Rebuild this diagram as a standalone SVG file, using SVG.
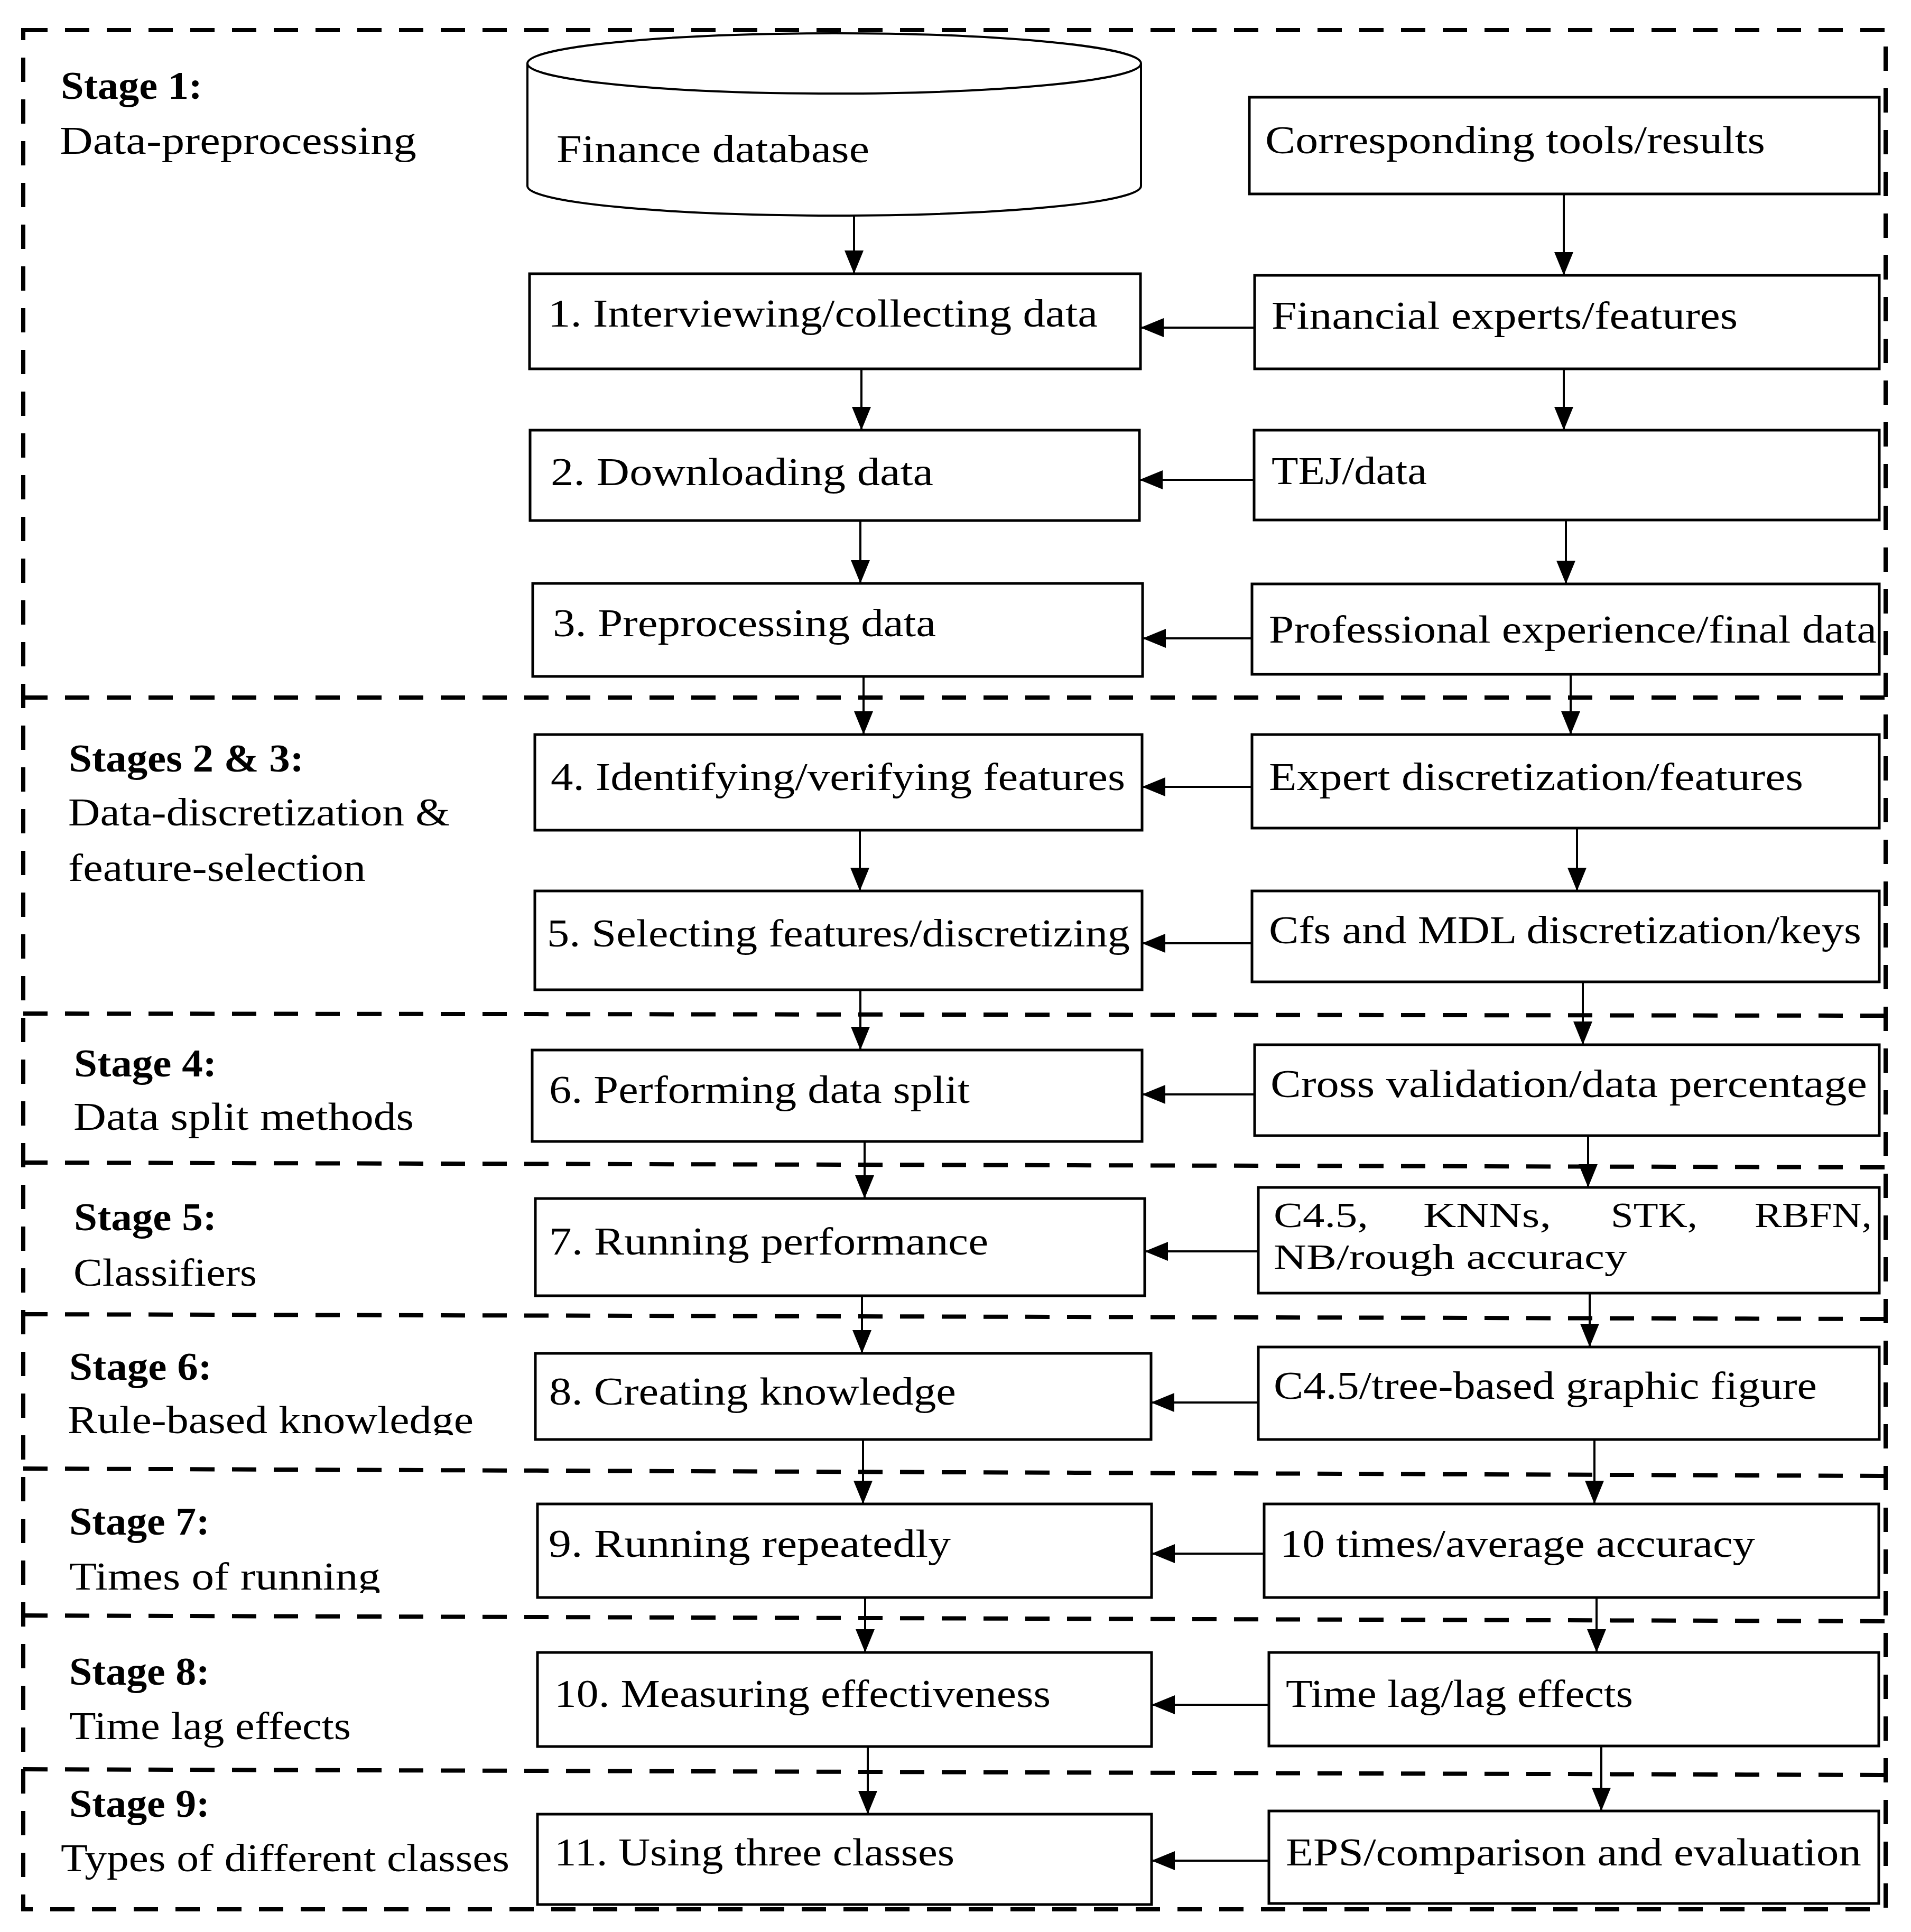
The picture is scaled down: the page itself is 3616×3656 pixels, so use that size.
<svg xmlns="http://www.w3.org/2000/svg" width="3616" height="3656" viewBox="0 0 3616 3656">
<style>
.bg{fill:#fff}
.box{fill:#fff;stroke:#000;stroke-width:5}
.cyl{fill:#fff;stroke:#000;stroke-width:4}
.dash{fill:none;stroke:#000;stroke-width:8;stroke-dasharray:46 33}
.con line{stroke:#000;stroke-width:4;marker-end:url(#ah)}
text{font-family:"Liberation Serif","Times New Roman",serif;font-size:74px;fill:#000}
.st{font-weight:bold}
.sm{font-size:67px}
</style>
<defs>
<marker id="ah" markerUnits="userSpaceOnUse" viewBox="0 0 44 36" refX="44" refY="18" markerWidth="44" markerHeight="36" orient="auto">
<path d="M0,0 L44,18 L0,36 Z" fill="#000"/>
</marker>
<clipPath id="clip6"><rect x="0" y="2500" width="1000" height="216"/></clipPath>
<clipPath id="clip7"><rect x="0" y="2800" width="1000" height="214"/></clipPath>
</defs>
<rect class="bg" x="0" y="0" width="3616" height="3656"/>

<g id="stage-frames">
<rect class="dash" x="44" y="57" width="3524" height="3556"/>
<line class="dash" x1="44" y1="1320" x2="3568" y2="1320"/>
<line class="dash" x1="44" y1="1918" x2="3568" y2="1922"/>
<line class="dash" x1="44" y1="2200" x2="3568" y2="2209"/>
<line class="dash" x1="44" y1="2487" x2="3568" y2="2496"/>
<line class="dash" x1="44" y1="2779" x2="3568" y2="2793"/>
<line class="dash" x1="44" y1="3057" x2="3568" y2="3068"/>
<line class="dash" x1="44" y1="3348" x2="3568" y2="3359"/>
</g>

<g id="stage-labels">
<text class="st" x="115" y="187" textLength="268" lengthAdjust="spacingAndGlyphs">Stage 1:</text>
<text x="113" y="291" textLength="675" lengthAdjust="spacingAndGlyphs">Data-preprocessing</text>
<text class="st" x="130" y="1460" textLength="445" lengthAdjust="spacingAndGlyphs">Stages 2 &amp; 3:</text>
<text x="129" y="1562" textLength="722" lengthAdjust="spacingAndGlyphs">Data-discretization &amp;</text>
<text x="129" y="1667" textLength="563" lengthAdjust="spacingAndGlyphs">feature-selection</text>
<text class="st" x="140" y="2037" textLength="270" lengthAdjust="spacingAndGlyphs">Stage 4:</text>
<text x="139" y="2138" textLength="644" lengthAdjust="spacingAndGlyphs">Data split methods</text>
<text class="st" x="140" y="2328" textLength="270" lengthAdjust="spacingAndGlyphs">Stage 5:</text>
<text x="139" y="2433" textLength="347" lengthAdjust="spacingAndGlyphs">Classifiers</text>
<text class="st" x="131" y="2611" textLength="270" lengthAdjust="spacingAndGlyphs">Stage 6:</text>
<text x="128" y="2712" textLength="768" lengthAdjust="spacingAndGlyphs" clip-path="url(#clip6)">Rule-based knowledge</text>
<text class="st" x="131" y="2904" textLength="266" lengthAdjust="spacingAndGlyphs">Stage 7:</text>
<text x="131" y="3008" textLength="589" lengthAdjust="spacingAndGlyphs" clip-path="url(#clip7)">Times of running</text>
<text class="st" x="131" y="3188" textLength="266" lengthAdjust="spacingAndGlyphs">Stage 8:</text>
<text x="131" y="3291" textLength="533" lengthAdjust="spacingAndGlyphs">Time lag effects</text>
<text class="st" x="131" y="3438" textLength="266" lengthAdjust="spacingAndGlyphs">Stage 9:</text>
<text x="115" y="3541" textLength="849" lengthAdjust="spacingAndGlyphs">Types of different classes</text>
</g>

<g id="connectors" class="con">
<line x1="1616" y1="408" x2="1616" y2="518"/>
<line x1="1630" y1="698" x2="1630" y2="814"/>
<line x1="1628" y1="985" x2="1628" y2="1104"/>
<line x1="1634" y1="1280" x2="1634" y2="1390"/>
<line x1="1627" y1="1571" x2="1627" y2="1686"/>
<line x1="1628" y1="1873" x2="1628" y2="1987"/>
<line x1="1636" y1="2160" x2="1636" y2="2268"/>
<line x1="1631" y1="2452" x2="1631" y2="2561"/>
<line x1="1633" y1="2724" x2="1633" y2="2846"/>
<line x1="1637" y1="3023" x2="1637" y2="3127"/>
<line x1="1642" y1="3305" x2="1642" y2="3433"/>
<line x1="2959" y1="367" x2="2959" y2="521"/>
<line x1="2959" y1="698" x2="2959" y2="814"/>
<line x1="2963" y1="984" x2="2963" y2="1105"/>
<line x1="2972" y1="1276" x2="2972" y2="1390"/>
<line x1="2984" y1="1567" x2="2984" y2="1686"/>
<line x1="2995" y1="1858" x2="2995" y2="1977"/>
<line x1="3005" y1="2149" x2="3005" y2="2247"/>
<line x1="3008" y1="2447" x2="3008" y2="2549"/>
<line x1="3017" y1="2724" x2="3017" y2="2846"/>
<line x1="3021" y1="3023" x2="3021" y2="3127"/>
<line x1="3030" y1="3304" x2="3030" y2="3427"/>
<line x1="2374" y1="620" x2="2158" y2="620"/>
<line x1="2373" y1="908" x2="2156" y2="908"/>
<line x1="2369" y1="1208" x2="2162" y2="1208"/>
<line x1="2369" y1="1489" x2="2161" y2="1489"/>
<line x1="2369" y1="1785" x2="2161" y2="1785"/>
<line x1="2374" y1="2071" x2="2161" y2="2071"/>
<line x1="2381" y1="2368" x2="2166" y2="2368"/>
<line x1="2381" y1="2654" x2="2178" y2="2654"/>
<line x1="2392" y1="2940" x2="2179" y2="2940"/>
<line x1="2401" y1="3226" x2="2179" y2="3226"/>
<line x1="2401" y1="3521" x2="2179" y2="3521"/>
</g>

<g id="finance-database">
<path class="cyl" d="M998,120 L998,352 A580.5,56 0 0 0 2159,352 L2159,120"/>
<ellipse class="cyl" cx="1578.5" cy="120" rx="580.5" ry="57"/>
<text x="1053" y="307" textLength="592" lengthAdjust="spacingAndGlyphs">Finance database</text>
</g>

<g id="n1"><rect class="box" x="1002" y="518" width="1156" height="180"/><text x="1037" y="618" textLength="1040" lengthAdjust="spacingAndGlyphs">1. Interviewing/collecting data</text></g>
<g id="n2"><rect class="box" x="1003" y="814" width="1153" height="171"/><text x="1042" y="918" textLength="724" lengthAdjust="spacingAndGlyphs">2. Downloading data</text></g>
<g id="n3"><rect class="box" x="1008" y="1104" width="1154" height="176"/><text x="1046" y="1204" textLength="725" lengthAdjust="spacingAndGlyphs">3. Preprocessing data</text></g>
<g id="n4"><rect class="box" x="1012" y="1390" width="1149" height="181"/><text x="1042" y="1495" textLength="1087" lengthAdjust="spacingAndGlyphs">4. Identifying/verifying features</text></g>
<g id="n5"><rect class="box" x="1012" y="1686" width="1149" height="187"/><text x="1035" y="1791" textLength="1103" lengthAdjust="spacingAndGlyphs">5. Selecting features/discretizing</text></g>
<g id="n6"><rect class="box" x="1007" y="1987" width="1154" height="173"/><text x="1039" y="2087" textLength="796" lengthAdjust="spacingAndGlyphs">6. Performing data split</text></g>
<g id="n7"><rect class="box" x="1013" y="2268" width="1153" height="184"/><text x="1039" y="2374" textLength="831" lengthAdjust="spacingAndGlyphs">7. Running performance</text></g>
<g id="n8"><rect class="box" x="1013" y="2561" width="1165" height="163"/><text x="1039" y="2658" textLength="770" lengthAdjust="spacingAndGlyphs">8. Creating knowledge</text></g>
<g id="n9"><rect class="box" x="1017" y="2846" width="1162" height="177"/><text x="1038" y="2946" textLength="761" lengthAdjust="spacingAndGlyphs">9. Running repeatedly</text></g>
<g id="n10"><rect class="box" x="1017" y="3127" width="1162" height="178"/><text x="1049" y="3230" textLength="939" lengthAdjust="spacingAndGlyphs">10. Measuring effectiveness</text></g>
<g id="n11"><rect class="box" x="1017" y="3433" width="1162" height="171"/><text x="1049" y="3530" textLength="757" lengthAdjust="spacingAndGlyphs">11. Using three classes</text></g>

<g id="r0"><rect class="box" x="2364" y="184" width="1192" height="183"/><text x="2394" y="290" textLength="946" lengthAdjust="spacingAndGlyphs">Corresponding tools/results</text></g>
<g id="r1"><rect class="box" x="2374" y="521" width="1182" height="177"/><text x="2406" y="622" textLength="882" lengthAdjust="spacingAndGlyphs">Financial experts/features</text></g>
<g id="r2"><rect class="box" x="2373" y="814" width="1183" height="170"/><text x="2406" y="916" textLength="294" lengthAdjust="spacingAndGlyphs">TEJ/data</text></g>
<g id="r3"><rect class="box" x="2369" y="1105" width="1187" height="171"/><text x="2401" y="1216" textLength="1150" lengthAdjust="spacingAndGlyphs">Professional experience/final data</text></g>
<g id="r4"><rect class="box" x="2369" y="1390" width="1187" height="177"/><text x="2401" y="1495" textLength="1011" lengthAdjust="spacingAndGlyphs">Expert discretization/features</text></g>
<g id="r5"><rect class="box" x="2369" y="1686" width="1187" height="172"/><text x="2401" y="1785" textLength="1121" lengthAdjust="spacingAndGlyphs">Cfs and MDL discretization/keys</text></g>
<g id="r6"><rect class="box" x="2374" y="1977" width="1182" height="172"/><text x="2404" y="2076" textLength="1129" lengthAdjust="spacingAndGlyphs">Cross validation/data percentage</text></g>
<g id="r7"><rect class="box" x="2381" y="2247" width="1175" height="200"/><text class="sm" y="2322"><tspan x="2410" textLength="179" lengthAdjust="spacingAndGlyphs">C4.5,</tspan><tspan x="2693" textLength="242" lengthAdjust="spacingAndGlyphs">KNNs,</tspan><tspan x="3048" textLength="164" lengthAdjust="spacingAndGlyphs">STK,</tspan><tspan x="3320" textLength="222" lengthAdjust="spacingAndGlyphs">RBFN,</tspan></text><text class="sm" x="2410" y="2401" textLength="669" lengthAdjust="spacingAndGlyphs">NB/rough accuracy</text></g>
<g id="r8"><rect class="box" x="2381" y="2549" width="1175" height="175"/><text x="2410" y="2647" textLength="1028" lengthAdjust="spacingAndGlyphs">C4.5/tree-based graphic figure</text></g>
<g id="r9"><rect class="box" x="2392" y="2846" width="1163" height="177"/><text x="2422" y="2946" textLength="899" lengthAdjust="spacingAndGlyphs">10 times/average accuracy</text></g>
<g id="r10"><rect class="box" x="2401" y="3127" width="1154" height="177"/><text x="2433" y="3230" textLength="657" lengthAdjust="spacingAndGlyphs">Time lag/lag effects</text></g>
<g id="r11"><rect class="box" x="2401" y="3427" width="1154" height="175"/><text x="2433" y="3530" textLength="1089" lengthAdjust="spacingAndGlyphs">EPS/comparison and evaluation</text></g>
</svg>
